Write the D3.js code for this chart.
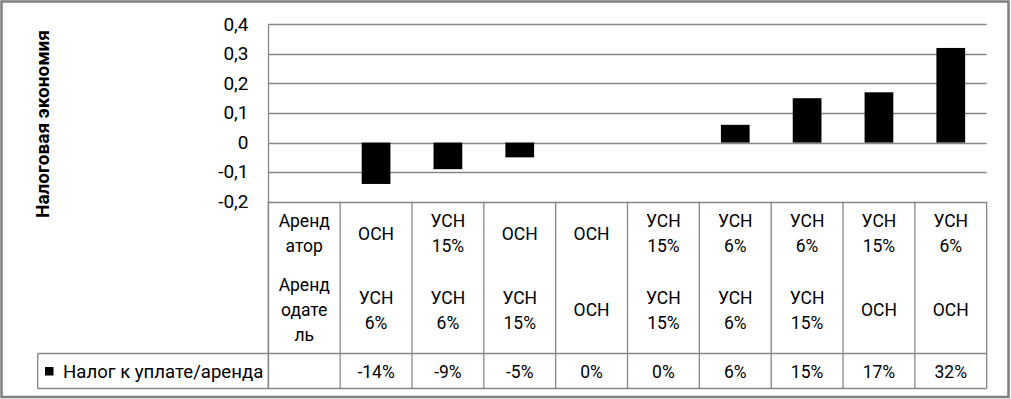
<!DOCTYPE html>
<html><head><meta charset="utf-8">
<script src="https://cdn.jsdelivr.net/npm/d3@7"></script>
<style>html,body{margin:0;padding:0;background:#fff;}svg{display:block;}</style>
</head><body>
<svg id="c" width="1011" height="399"></svg>
<script>
const tenantLabels = ["Аренд\nатор", "ОСН", "УСН\n15%", "ОСН", "ОСН", "УСН\n15%", "УСН\n6%", "УСН\n6%", "УСН\n15%", "УСН\n6%"];
const landlordLabels = ["Аренд\nодате\nль", "УСН\n6%", "УСН\n6%", "УСН\n15%", "ОСН", "УСН\n15%", "УСН\n6%", "УСН\n15%", "ОСН", "ОСН"];
const values = [null, -0.14, -0.09, -0.05, 0, 0, 0.06, 0.15, 0.17, 0.32];
const yTicks = [-0.2, -0.1, 0, 0.1, 0.2, 0.3, 0.4];
const seriesName = "Налог к уплате/аренда";
const yTitle = "Налоговая экономия";

const svg = d3.select("#c");
const FONT = "Roboto, 'Noto Sans', sans-serif";
const FS = 17.5;
const grid = "#868686";

const x = d3.scaleBand().domain(d3.range(values.length)).range([268.3, 986.7]).paddingInner(0).paddingOuter(0);
const y = d3.scaleLinear().domain([-0.2, 0.4]).range([201.7, 24.3]);

// outer border
svg.append("rect").attr("x", 1.5).attr("y", 1.5).attr("width", 1007).attr("height", 395.5)
  .attr("fill", "none").attr("stroke", "#7f7f7f").attr("stroke-width", 2.5);

// gridlines
svg.append("g").selectAll("line").data(yTicks).join("line")
  .attr("x1", 268.3).attr("x2", 986.7).attr("y1", d => Math.round(y(d)) + 0.5).attr("y2", d => Math.round(y(d)) + 0.5)
  .attr("stroke", grid).attr("stroke-width", 1.3);

// y axis labels
const fmt = d => d === 0 ? "0" : d3.format(".1f")(d).replace(".", ",").replace("−", "-");
svg.append("g").selectAll("text").data(yTicks).join("text")
  .attr("x", 248.5).attr("y", d => y(d) + FS * 0.36)
  .attr("text-anchor", "end").attr("font-family", FONT).attr("font-size", 19).attr("fill", "#000")
  .text(fmt);

// y axis line
svg.append("line").attr("x1", 268.5).attr("x2", 268.5).attr("y1", y(0.4)).attr("y2", 388.3)
  .attr("stroke", grid).attr("stroke-width", 1.3);

// bars
const bw = x.bandwidth() * 0.4;
svg.append("g").selectAll("rect").data(values.map((v, i) => ({v, i})).filter(d => d.v !== null && d.v !== 0)).join("rect")
  .attr("x", d => x(d.i) + (x.bandwidth() - bw) / 2)
  .attr("width", bw)
  .attr("y", d => Math.min(y(d.v), y(0)))
  .attr("height", d => Math.abs(y(d.v) - y(0)))
  .attr("fill", "#000");

// table lines
const tg = svg.append("g").attr("stroke", grid).attr("stroke-width", 1.3);
d3.range(values.length + 1).forEach(i => {
  const xx = i < values.length ? x(i) : x(values.length - 1) + x.bandwidth();
  tg.append("line").attr("x1", xx).attr("x2", xx).attr("y1", y(-0.2)).attr("y2", 388.3);
});
tg.append("line").attr("x1", 37.7).attr("x2", 986.7).attr("y1", 353.5).attr("y2", 353.5);
tg.append("line").attr("x1", 37.7).attr("x2", 986.7).attr("y1", 388.5).attr("y2", 388.5);
tg.append("line").attr("x1", 37.7).attr("x2", 37.7).attr("y1", 353.5).attr("y2", 388.5);

// multi-line labels
function cellText(labels, cy) {
  labels.forEach((lab, i) => {
    const lines = lab.split("\n");
    const lh = 25;
    const t = svg.append("text").attr("text-anchor", "middle").attr("font-family", FONT)
      .attr("font-size", FS).attr("fill", "#000");
    lines.forEach((ln, j) => {
      t.append("tspan").attr("x", x(i) + x.bandwidth() / 2)
        .attr("y", cy - (lines.length - 1) * lh / 2 + j * lh + FS * 0.36).text(ln);
    });
  });
}
cellText(tenantLabels, 233.5);
cellText(landlordLabels, 310);

// value row
svg.append("g").selectAll("text").data(values.map((v, i) => ({v, i})).filter(d => d.v !== null)).join("text")
  .attr("x", d => x(d.i) + x.bandwidth() / 2).attr("y", 371.5 + FS * 0.36)
  .attr("text-anchor", "middle").attr("font-family", FONT).attr("font-size", FS).attr("fill", "#000")
  .text(d => d3.format(".0%")(d.v).replace("−", "-"));

// legend
svg.append("rect").attr("x", 45).attr("y", 367).attr("width", 8.5).attr("height", 8.5).attr("fill", "#000");
svg.append("text").attr("x", 63).attr("y", 371.5 + 18.6 * 0.36).attr("font-family", FONT).attr("font-size", 18.6)
  .attr("fill", "#000").text(seriesName);

// y title
svg.append("text").attr("transform", "translate(49,124) rotate(-90)").attr("text-anchor", "middle")
  .attr("font-family", FONT).attr("font-size", 19).attr("font-weight", "bold").attr("fill", "#000").text(yTitle);
</script>
</body></html>
